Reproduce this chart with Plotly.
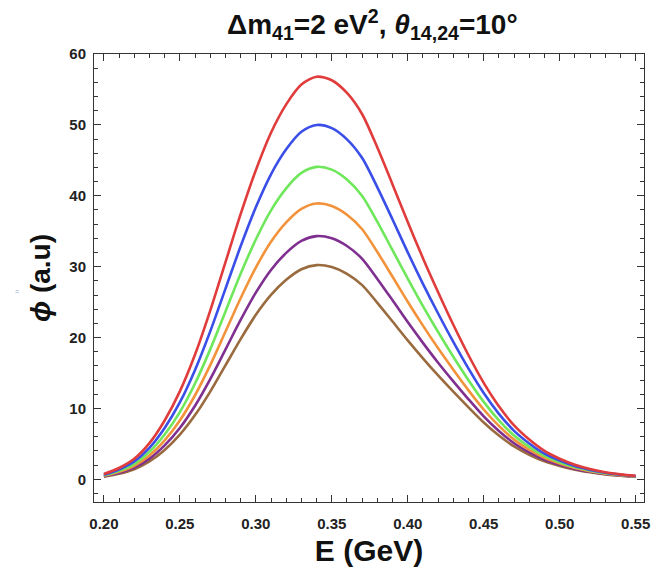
import plotly.graph_objects as go

energy = [0.20, 0.21, 0.22, 0.23, 0.24, 0.25, 0.26, 0.27, 0.28, 0.29,
          0.30, 0.31, 0.32, 0.33, 0.34, 0.35, 0.36, 0.37, 0.38, 0.39,
          0.40, 0.41, 0.42, 0.43, 0.44, 0.45, 0.46, 0.47, 0.48, 0.49,
          0.50, 0.51, 0.52, 0.53, 0.54, 0.55]

flux_red = [0.75, 1.6, 2.9, 5.1, 8.3, 12.4, 17.6, 23.8, 30.6, 37.4,
            43.6, 48.9, 52.9, 55.7, 56.8, 56.3, 54.5, 51.5, 46.8, 41.6,
            36.3, 31.2, 26.4, 21.8, 17.5, 13.6, 10.3, 7.6, 5.6, 4.0,
            2.9, 2.05, 1.45, 1.0, 0.7, 0.48]
flux_blue = [0.65, 1.39, 2.52, 4.44, 7.24, 10.84, 15.42, 20.87, 26.87, 32.87,
             38.37, 43.03, 46.55, 49.02, 49.98, 49.54, 47.96, 45.32, 41.18, 36.65,
             32.02, 27.58, 23.39, 19.38, 15.61, 12.17, 9.24, 6.84, 5.06, 3.62,
             2.64, 1.87, 1.33, 0.92, 0.65, 0.45]
flux_green = [0.57, 1.21, 2.19, 3.87, 6.32, 9.49, 13.52, 18.33, 23.65, 28.99,
              33.83, 37.95, 41.05, 43.22, 44.08, 43.69, 42.29, 39.96, 36.32, 32.32,
              28.31, 24.43, 20.78, 17.29, 13.98, 10.93, 8.33, 6.18, 4.58, 3.30,
              2.42, 1.72, 1.23, 0.86, 0.61, 0.42]
flux_orange = [0.49, 1.05, 1.91, 3.37, 5.50, 8.30, 11.86, 16.11, 20.81, 25.54,
               29.87, 33.50, 36.24, 38.15, 38.91, 38.57, 37.33, 35.28, 32.06, 28.58,
               25.05, 21.68, 18.48, 15.46, 12.55, 9.85, 7.53, 5.60, 4.17, 3.02,
               2.22, 1.59, 1.14, 0.80, 0.57, 0.40]
flux_purple = [0.43, 0.91, 1.65, 2.92, 4.79, 7.24, 10.38, 14.14, 18.30, 22.48,
               26.33, 29.54, 31.95, 33.64, 34.31, 34.01, 32.92, 31.11, 28.27, 25.25,
               22.18, 19.25, 16.45, 13.82, 11.29, 8.88, 6.82, 5.09, 3.80, 2.76,
               2.04, 1.47, 1.06, 0.75, 0.53, 0.37]
flux_brown = [0.37, 0.78, 1.42, 2.52, 4.15, 6.30, 9.06, 12.38, 16.07, 19.78,
              23.20, 26.01, 28.14, 29.63, 30.22, 29.95, 28.99, 27.40, 24.90, 22.26,
              19.60, 17.07, 14.65, 12.36, 10.15, 8.02, 6.18, 4.64, 3.47, 2.54,
              1.89, 1.36, 0.99, 0.70, 0.50, 0.36]

series = [
    (flux_brown, "#9a6b3f"),
    (flux_purple, "#7f2f8f"),
    (flux_orange, "#f2933c"),
    (flux_green, "#6ee85a"),
    (flux_blue, "#3a4ee8"),
    (flux_red, "#e03c3c"),
]

x_ticks = [0.20, 0.25, 0.30, 0.35, 0.40, 0.45, 0.50, 0.55]
x_tick_labels = ["0.20", "0.25", "0.30", "0.35", "0.40", "0.45", "0.50", "0.55"]
y_ticks = [0, 10, 20, 30, 40, 50, 60]

FONT = "Liberation Sans, Arial, Helvetica, sans-serif"

fig = go.Figure()
for vals, col in series:
    fig.add_trace(go.Scatter(x=energy, y=vals, mode="lines",
                             line=dict(color=col, width=2.6, shape="spline", smoothing=0.8),
                             showlegend=False, hoverinfo="skip"))

axis_common = dict(
    showline=True, linecolor="#333333", linewidth=1, mirror="ticks",
    ticks="inside", ticklen=7, tickwidth=1, tickcolor="#333333",
    showgrid=False, zeroline=False,
    tickfont=dict(family=FONT, size=15, color="#222222", weight="bold"),
)

fig.update_xaxes(range=[0.1935, 0.5555], tickvals=x_ticks, ticktext=x_tick_labels,
                 minor=dict(ticks="inside", dtick=0.01, tick0=0.2, ticklen=4,
                            tickcolor="#333333", showgrid=False),
                 title=dict(text="<b>E (GeV)</b>", font=dict(family=FONT, size=30, color="#111111"),
                            standoff=8),
                 ticklabelstandoff=8,
                 **axis_common)
fig.update_yaxes(range=[-3.2, 60.0], tickvals=y_ticks,
                 minor=dict(ticks="inside", dtick=2, tick0=0, ticklen=4,
                            tickcolor="#333333", showgrid=False),
                 title=dict(text="<b><i>ϕ</i> (a.u)</b>", font=dict(family=FONT, size=28, color="#111111"),
                            standoff=10),
                 ticklabelstandoff=4,
                 **axis_common)

fig.update_layout(
    width=659, height=570,
    margin=dict(l=94, r=9, t=54, b=68),
    plot_bgcolor="white", paper_bgcolor="white",
    title=dict(text="<b>Δm<sub>41</sub>=2 eV<sup>2</sup>, <i>θ</i><sub>14,24</sub>=10°</b>",
               x=0.565, xanchor="center", y=0.957, yanchor="middle",
               font=dict(family=FONT, size=28, color="#111111")),
)
fig.add_annotation(text="=", xref="paper", yref="paper",
                   x=(16 - 94) / 556, y=(502 - 291) / 448,
                   xanchor="center", yanchor="middle",
                   showarrow=False, font=dict(size=7, color="#8aa8d0", family=FONT))

fig.write_html("out.html")
